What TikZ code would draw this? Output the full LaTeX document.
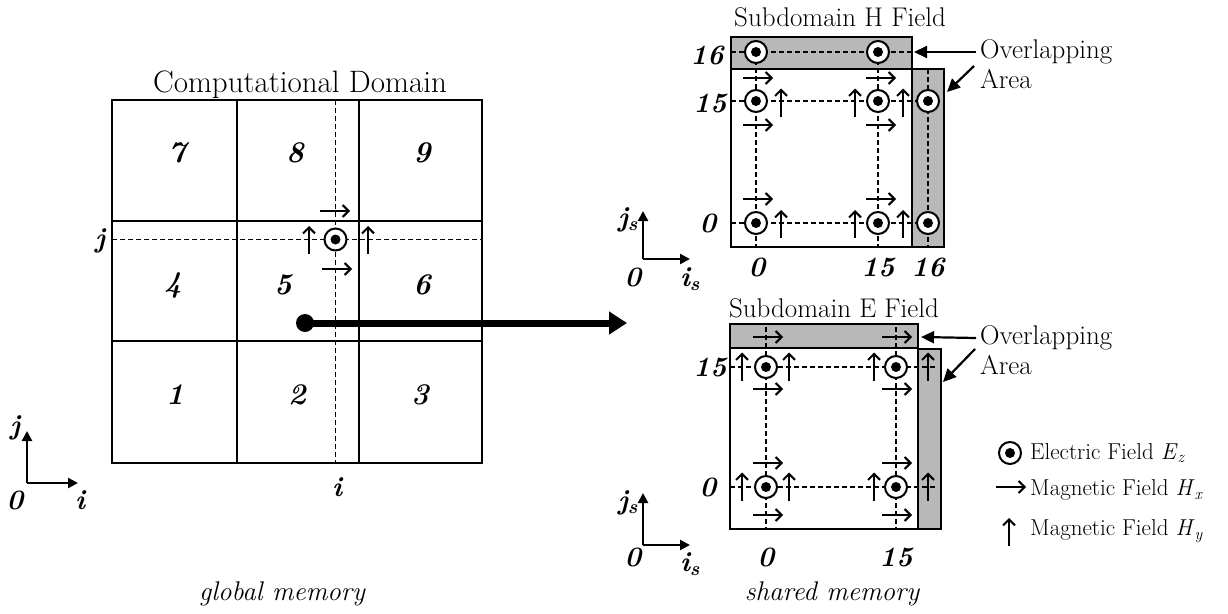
\documentclass[tikz,border=0pt]{standalone}
\usepackage{fontspec}
\usetikzlibrary{arrows.meta}
\newcommand\heavytxt{\addfontfeature{FakeBold=0.6}}
\begin{document}
\begin{tikzpicture}[x=1pt,y=-1pt,
  gridline/.style={line width=2.2pt},
  boxline/.style={line width=2.2pt},
  dline/.style={dash pattern=on 5pt off 3pt, line width=1.4pt},
  band/.style={fill=black!28, draw=black, line width=2.2pt},
  harr/.style={line width=2pt, -{Straight Barb[length=6pt,width=12pt,line width=2pt]}},
  ax/.style={line width=2.2pt, -{Triangle[length=10pt,width=10pt]}},
  oarr/.style={line width=2.2pt, -{Triangle[length=13pt,width=12pt]}},
  ez/.style={circle, draw, fill=white, line width=2pt, minimum size=22pt, inner sep=0pt,
     path picture={\fill[black] (path picture bounding box.center) circle (5pt);}},
  txt/.style={inner sep=0pt, font=\fontsize{27}{30}\selectfont\heavytxt},
  num/.style={inner sep=0pt, font=\fontsize{30}{34}\selectfont\bfseries\itshape},
  lbl/.style={inner sep=0pt, font=\fontsize{28}{30}\selectfont\bfseries\itshape},
  leg/.style={inner sep=0pt, anchor=west, font=\fontsize{23}{26}\selectfont\heavytxt},
  hx/.pic={\draw[harr] (-15,0) -- (15,0);},
  hy/.pic={\draw[harr] (0,14) -- (0,-14);},
]
\useasboundingbox (0,0) rectangle (1228,613);

% ---------------- global domain ----------------
\node[txt, anchor=base, font=\fontsize{31}{34}\selectfont\heavytxt] (ctitle) at (300,92) {Computational Domain};
\draw[gridline] (112,100) rectangle (482,463);
\draw[gridline] (237,100) -- (237,463) (359,100) -- (359,463)
                (112,221) -- (482,221) (112,341) -- (482,341);
\draw[dline] (112,239.5) -- (482,239.5);
\draw[dline] (335.5,100) -- (335.5,463);
\node[ez] (ge) at (335.5,239.5) {};
\pic at (309,240) {hy};
\pic at (368,240) {hy};
\pic at (335,211) {hx};
\pic at (337,269) {hx};
\node[num] (n7) at (177,153) {7};
\node[num] (n8) at (295,153) {8};
\node[num] (n9) at (422,153) {9};
\node[num] (n4) at (173,285) {4};
\node[num] (n5) at (283,285) {5};
\node[num] (n6) at (422,285) {6};
\node[num] (n1) at (175,395) {1};
\node[num] (n2) at (297,395) {2};
\node[num] (n3) at (420,395) {3};
\node[lbl] (gj) at (100,241) {j};
\node[lbl] (gi) at (337,487) {i};
% axes
\coordinate (go) at (27,483);
\coordinate (gy) at (27,431);
\coordinate (gx) at (78,483);
\draw[ax] (go) -- (gy);
\draw[ax] (go) -- (gx);
\node[lbl] (gaj) at (15,428) {j};
\node[lbl] (ga0) at (15,500) {0};
\node[lbl] (gai) at (80,500) {i};
\node[txt, anchor=base, font=\fontsize{27}{30}\selectfont\itshape\heavytxt] (gm) at (282,600) {global memory};

% big arrow
\node[circle, fill, minimum size=18pt, inner sep=0pt] (src) at (305,323) {};
\coordinate (dst) at (627,323);
\draw[line width=7pt, -{Triangle[length=18pt,width=22pt]}] (src.center) -- (dst);

% ---------------- H field subdomain ----------------
\node[txt, anchor=base] (htitle) at (840,27) {Subdomain H Field};
\draw[band] (731,37) rectangle (912,69);
\draw[band] (912,69) rectangle (944,247);
\draw[boxline] (731,69) rectangle (912,247);
\draw[dline] (731,52) -- (912,52);
\draw[dline] (731,101) -- (928,101);
\draw[dline] (731,223) -- (928,223);
\draw[dline] (756,52) -- (756,247);
\draw[dline] (878,52) -- (878,247);
\draw[dline] (928,69) -- (928,247);
\foreach \p/\x/\y in {a/756/52,b/878/52,c/756/101,d/878/101,e/928/101,f/756/223,g/878/223,h/928/223}
  \node[ez] (h\p) at (\x,\y) {};
\foreach \y in {78,125,199} {\pic at (758,\y) {hx}; \pic at (881,\y) {hx};}
\foreach \x in {781,855,903} {\pic at (\x,102.5) {hy}; \pic at (\x,224) {hy};}
\node[lbl] (hl16) at (707,55) {16};
\node[lbl] (hl15) at (710,103) {15};
\node[lbl] (hl0) at (708,223) {0};
\node[lbl] (hb0) at (757,267) {0};
\node[lbl] (hb15) at (878,267) {15};
\node[lbl] (hb16) at (928,267) {16};
\coordinate (ho) at (643,259);
\coordinate (hyax) at (643,211);
\coordinate (hxax) at (690,259);
\draw[ax] (ho) -- (hyax);
\draw[ax] (ho) -- (hxax);
\node[lbl] (hj) at (628,220) {j\textsubscript{s}};
\node[lbl] (ha0) at (633,277) {0};
\node[lbl] (hi) at (690,279) {i\textsubscript{s}};
\node[txt, anchor=west] (hov1) at (980,52) {Overlapping};
\node[txt, anchor=west] (hov2) at (980,79) {Area};
\coordinate (hovt1) at (914,52);
\coordinate (hovs2) at (974,66);
\coordinate (hovt2) at (947,92);
\draw[oarr] (hov1.west) ++(-4,0) -- (hovt1);
\draw[oarr] (hovs2) -- (hovt2);

% ---------------- E field subdomain ----------------
\node[txt, anchor=base] (etitle) at (834,317) {Subdomain E Field};
\draw[band] (730,324) rectangle (918,348);
\draw[band] (918,349) rectangle (941,529);
\draw[boxline] (730,348) rectangle (918,529);
\draw[dline] (730,367) -- (935,367);
\draw[dline] (730,487) -- (935,487);
\draw[dline] (766,327) -- (766,529);
\draw[dline] (896,327) -- (896,529);
\foreach \p/\x/\y in {a/766/367,b/896/367,c/766/487,d/896/487}
  \node[ez] (e\p) at (\x,\y) {};
\foreach \y in {337,389,463,515} {\pic at (768,\y) {hx}; \pic at (897,\y) {hx};}
\foreach \x in {742,789,874,928} {\pic at (\x,366.5) {hy}; \pic at (\x,486.5) {hy};}
\node[lbl] (el15) at (710,367) {15};
\node[lbl] (el0) at (708,487) {0};
\node[lbl] (eb0) at (766,557) {0};
\node[lbl] (eb15) at (896,557) {15};
\coordinate (eo) at (643,545);
\coordinate (eyax) at (643,493);
\coordinate (exax) at (690,545);
\draw[ax] (eo) -- (eyax);
\draw[ax] (eo) -- (exax);
\node[lbl] (ej) at (628,503) {j\textsubscript{s}};
\node[lbl] (ea0) at (633,557) {0};
\node[lbl] (ei) at (690,564) {i\textsubscript{s}};
\node[txt, anchor=west] (eov1) at (980,338) {Overlapping};
\node[txt, anchor=west] (eov2) at (980,365) {Area};
\coordinate (eovt1) at (921,337);
\coordinate (eovs2) at (975,349);
\coordinate (eovt2) at (943,382);
\draw[oarr] (eov1.west) ++(-4,0) -- (eovt1);
\draw[oarr] (eovs2) -- (eovt2);
\node[txt, anchor=base, font=\fontsize{27}{30}\selectfont\itshape\heavytxt] (sm) at (832,600) {shared memory};

% ---------------- legend ----------------
\node[ez] (lez) at (1010,453) {};
\node[leg] (lezt) at (1030,453) {Electric Field \textit{E}\textsubscript{\textit{z}}};
\pic at (1011,487) {hx};
\node[leg] (lhxt) at (1030,490) {Magnetic Field \textit{H}\textsubscript{\textit{x}}};
\pic at (1009,532) {hy};
\node[leg] (lhyt) at (1030,531) {Magnetic Field \textit{H}\textsubscript{\textit{y}}};
\end{tikzpicture}
\end{document}
